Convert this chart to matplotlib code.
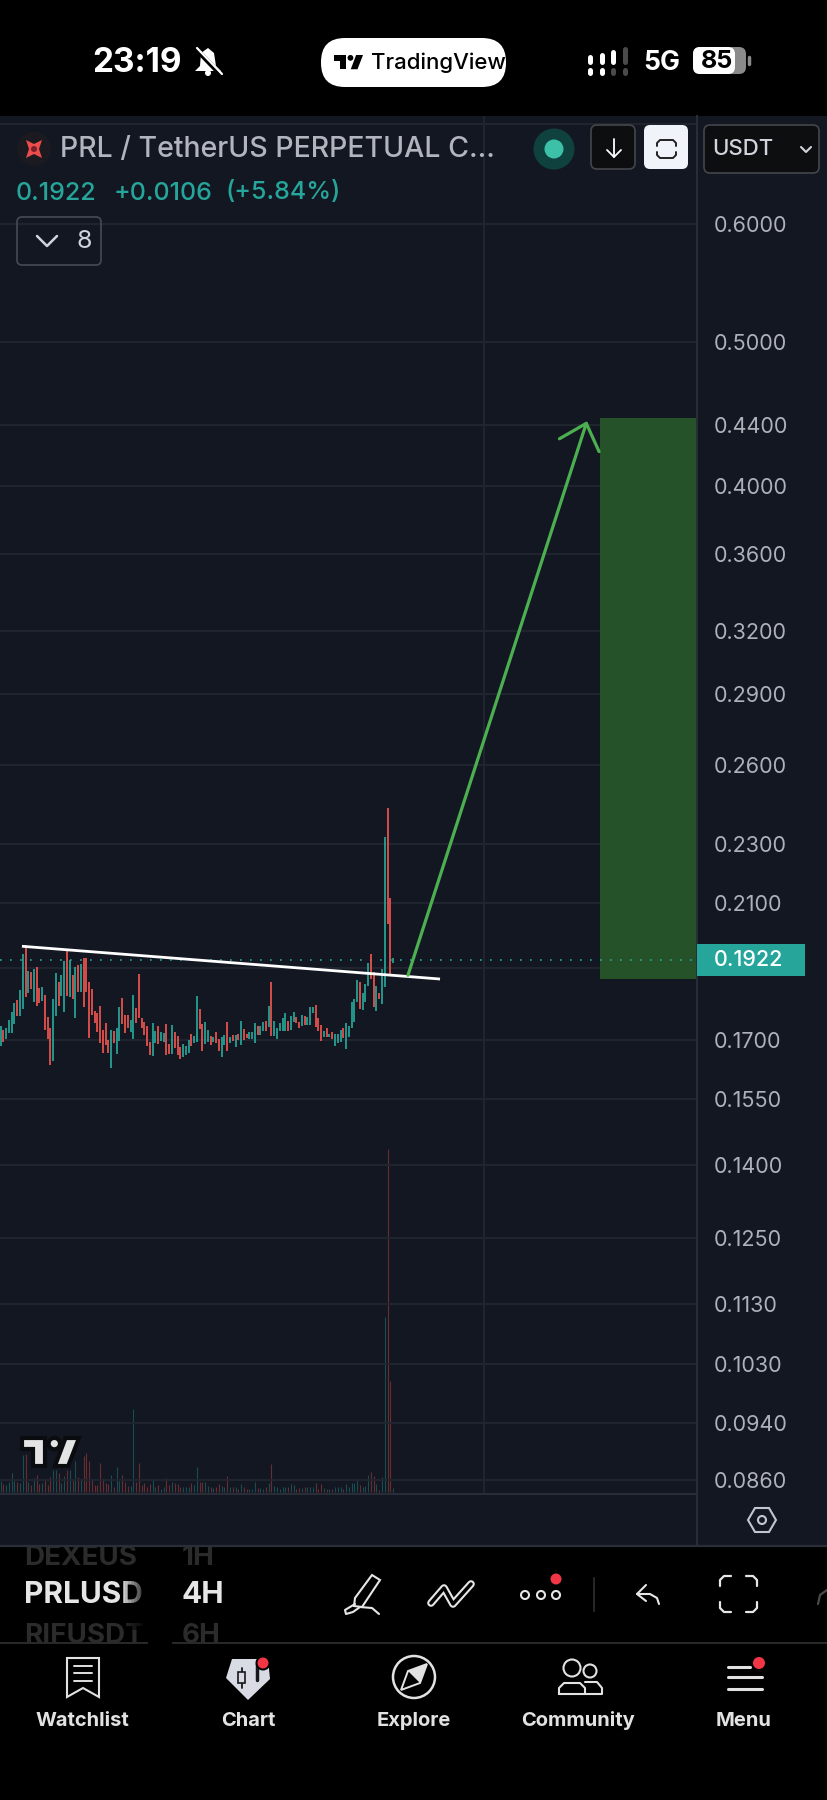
import matplotlib
matplotlib.use("Agg")
import matplotlib.pyplot as plt
from matplotlib.patches import Rectangle, Circle, Polygon, FancyBboxPatch
from matplotlib.ticker import NullLocator
import matplotlib.patheffects as pe

plt.rcParams['font.family'] = ['Inter', 'DejaVu Sans']

# ------- data (4H candles, oldest first)
# 1 = up candle, 0 = down candle
ups = [1,0,1,1,1,1,0,1,1,0, 1,0,1,0,0,1,0,0,0,1, 1,0,1,1,0,1,0,1,0,1,
       0,0,0,0,0,0,0,0,0,0, 1,0,1,1,0,0,0,1,1,0, 0,0,0,0,0,1,1,0,1,1,
       0,0,1,0,0,0,1,1,1,0, 1,1,0,0,1,1,0,1,0, 0,1,1,0,1,0,1,0,1,0,
       0,1,1,1,0,1,1,0,1,0, 1,1,1,1,1,0,1,1,0,0, 1,0,1,1,1,0,0,0,1,0,
       1,0,1,1,1,0,1,1,1,1, 1,0,1,1,1,0,0,1,0,1, 1,0,0,1]
highs = [.1736,.1725,.1732,.1752,.1775,.1798,.1807,.1835,.1942,.1968,
         .1891,.1887,.1895,.1902,.1840,.1843,.1821,.1761,.1732,.1810,
         .1885,.1858,.1878,.1920,.1952,.1924,.1878,.1902,.1909,.1912,
         .1930,.1930,.1858,.1838,.1778,.1771,.1791,.1725,.1743,.1700,
         .1725,.1723,.1730,.1787,.1814,.1765,.1765,.1752,.1821,.1784,
         .1881,.1758,.1748,.1736,.1695,.1743,.1723,.1736,.1720,.1718,
         .1741,.1688,.1738,.1720,.1710,.1680,.1688,.1683,.1700,.1715,
         .1709,.1818,.1783,.1741,.1748,.1725,.1709,.1706,.1721,
         .1702,.1706,.1713,.1746,.1707,.1713,.1712,.1714,.1751,.1728,
         .1714,.1721,.1721,.1743,.1737,.1737,.1746,.1749,.1791,.1858,
         .1751,.1730,.1744,.1758,.1772,.1751,.1763,.1775,.1761,.1748,
         .1765,.1763,.1760,.1789,.1789,.1793,.1758,.1740,.1722,.1732,
         .1716,.1719,.1714,.1714,.1725,.1731,.1743,.1737,.1802,.1811,
         .1863,.1858,.1826,.1853,.1914,.1940,.1886,.1847,.1828,.1897,
         .2326,.2431,.2115,.1929]
lows = [.1683,.1695,.1702,.1718,.1718,.1741,.1763,.1763,.1782,.1816,
        .1826,.1837,.1802,.1791,.1798,.1804,.1725,.1702,.1634,.1645,
        .1763,.1792,.1818,.1773,.1818,.1815,.1810,.1757,.1830,.1830,
        .1787,.1831,.1703,.1767,.1743,.1719,.1692,.1666,.1686,.1666,
        .1628,.1692,.1663,.1697,.1741,.1718,.1730,.1721,.1702,.1745,
        .1757,.1732,.1713,.1684,.1659,.1658,.1692,.1688,.1696,.1695,
        .1660,.1663,.1663,.1677,.1659,.1651,.1656,.1659,.1666,.1683,
        .1692,.1695,.1728,.1671,.1689,.1695,.1685,.1693,.1690,
        .1670,.1654,.1686,.1671,.1692,.1697,.1680,.1698,.1686,.1700,
        .1703,.1701,.1701,.1692,.1712,.1713,.1723,.1724,.1734,.1709,
        .1709,.1701,.1723,.1723,.1723,.1723,.1725,.1746,.1745,.1731,
        .1736,.1740,.1740,.1739,.1771,.1734,.1722,.1696,.1706,.1706,
        .1707,.1701,.1683,.1692,.1693,.1703,.1675,.1707,.1732,.1748,
        .1802,.1782,.1779,.1801,.1848,.1867,.1788,.1778,.1811,.1796,
        .1845,.2033,.1878,.1914]
volumes = [34,24,21,32,57,35,31,28,112,114, 31,21,44,51,25,29,41,23,45,66,
           67,58,29,49,67,66,39,94,45,37, 109,119,93,40,23,23,89,40,28,24,
           52,17,77,34,53,31,20,19,249,31, 89,22,27,17,25,39,17,21,11,15,
           43,21,32,29,25,17,15,16,16,27, 22,77,31,31,31,19,15,12,17,25,
           19,15,48,15,15,15,11,25,17,9, 11,11,30,13,12,9,15,27,85,19,
           15,11,15,15,15,25,21,10,12,12, 15,15,15,15,28,11,26,13,11,10,
           10,15,15,15,11,25,15,27,27,41, 21,17,19,51,62,49,25,7,47,526,
           1030,334,13]

price_ticks = [0.7,0.6,0.5,0.44,0.40,0.36,0.32,0.29,0.26,0.23,0.21,0.19,0.17,0.155,0.14,0.125,0.113,0.103,0.094,0.086]
price_labels = ['','0.6000','0.5000','0.4400','0.4000','0.3600','0.3200','0.2900','0.2600','0.2300','0.2100','',
                '0.1700','0.1550','0.1400','0.1250','0.1130','0.1030','0.0940','0.0860']
last_price = 0.1922
aug_bar = 175

# drawings on the chart: (bar, price)
trend_bars = [7.7, 159]
trend_prices = [.1964, .1867]
arrow_bars = [147.4, 212.2]
arrow_prices = [.1878, .4424]
target_bar = 216.9
target_prices = [.1868, .4445]

BG = '#131722'
GRID = '#21252f'
TEAL = '#26a69a'
RED = '#ef5350'
AXTXT = '#aeb1ba'
W, H = 828, 1800

fig = plt.figure(figsize=(W/100, H/100), dpi=100, facecolor='black')

def px_axes(l, t, r, b, **kw):
    return fig.add_axes([l/W, 1-b/H, (r-l)/W, (b-t)/H], **kw)

# background panel
back = px_axes(0, 0, W, H, zorder=0)
back.set_xlim(0, W); back.set_ylim(H, 0); back.axis('off')
back.add_patch(Rectangle((0, 116), W, 1430, fc=BG, ec='none'))

# ------- price chart
ax = px_axes(0, 116, 697, 1494, zorder=2, facecolor='none')
ax.set_yscale('log')
ax.set_xlim(-0.241, 252)
ax.set_ylim(.0842, .7091)
ax.yaxis.tick_right()
ax.set_yticks(price_ticks, price_labels)
ax.yaxis.set_minor_locator(NullLocator())
ax.set_xticks([aug_bar], ['Aug'])
ax.tick_params(axis='y', length=0, pad=12, labelsize=15.5, labelcolor=AXTXT)
ax.tick_params(axis='x', length=0, pad=14, labelsize=15, labelcolor=AXTXT)
for lab in ax.get_xticklabels():
    lab.set_fontweight('bold')
ax.grid(True, color=GRID, lw=1.4)
ax.set_axisbelow(True)
for s in ['top', 'left', 'right']:
    ax.spines[s].set_visible(False)
ax.spines['bottom'].set_color('#2a2e39')
ax.spines['bottom'].set_linewidth(1.4)

bars = list(range(len(highs)))
cols = [TEAL if u else RED for u in ups]

# target box
ax.add_patch(Rectangle((target_bar, target_prices[0]), 252-target_bar, target_prices[1]-target_prices[0],
                       fc='#265229', ec='none', zorder=1.5))

ax.axhline(last_price, color=TEAL, lw=1.2, ls=(0, (1, 5)), zorder=1.6)
ax.vlines(bars, lows, highs, colors=cols, lw=1.25, capstyle='butt', zorder=3)
ax.plot(trend_bars, trend_prices, color='white', lw=2.0, zorder=4, solid_capstyle='butt')
ax.annotate('', xy=(arrow_bars[1], arrow_prices[1]), xytext=(arrow_bars[0], arrow_prices[0]),
            arrowprops=dict(arrowstyle='->,head_length=1.1,head_width=1.0', mutation_scale=15,
                            color='#4caf50', lw=2.3, shrinkA=0, shrinkB=0), zorder=5)

# volume pane shares the x scale, one unit is a third of a pixel
vol = px_axes(0, 116, 697, 1494, zorder=1, facecolor='none')
vol.set_xlim(ax.get_xlim())
vol.set_ylim(-5, 4129)
vol.axis('off')
vol.vlines(bars, 0, volumes, colors=cols, lw=0.8, alpha=0.38, capstyle='butt')

# ------- overlay with the app chrome
ui = px_axes(0, 0, W, H, zorder=3, facecolor='none')
ui.set_xlim(0, W); ui.set_ylim(H, 0); ui.axis('off')

def line(pts, color='white', lw=1.5, **kw):
    xs, ys = zip(*pts)
    ui.plot(xs, ys, color=color, lw=lw, solid_capstyle='round', solid_joinstyle='round', **kw)

def box(x0, y0, x1, y1, fc, ec='none', r=6, lw=1.2, z=2):
    ui.add_patch(FancyBboxPatch((x0+r, y0+r), x1-x0-2*r, y1-y0-2*r, boxstyle='round,pad=%d' % r,
                                fc=fc, ec=ec, lw=lw, zorder=z))

def dot(x, y, r, fc, ec='none', lw=1.0, z=4):
    ui.add_patch(Circle((x, y), r, fc=fc, ec=ec, lw=lw, zorder=z))

def tv_logo(x, y, w, color, edge=None):
    h = w*85/173
    outline = dict(ec=edge, lw=3) if edge else dict(ec='none')
    t = [(0,0),(.405,0),(.405,1),(.2,1),(.2,.41),(0,.41)]
    s = [(.763,0),(1,0),(.81,1),(.578,1)]
    for shape in (t, s):
        ui.add_patch(Polygon([(x+a*w, y+b*h) for a, b in shape], closed=True, fc=color, zorder=4, **outline))
    ui.add_patch(Circle((x+.567*w, y+.2*h), .1*w, fc=color, zorder=4, **outline))

# right axis separator and bottom edge
ui.plot([697, 697], [116, 1546], color='#2a2e39', lw=1.4)
ui.plot([0, W], [1546, 1546], color='#2a2e39', lw=1.6)

# status bar
ui.text(92, 63, '23:19', color='white', fontsize=24, fontweight='bold', va='center')
ui.add_patch(Polygon([(208,48),(214,53),(216,66),(221,71),(195,71),(200,66),(201,53)], closed=True, fc='white', ec='none', zorder=4))
dot(208, 73, 3, 'white')
line([(195,48),(221,75)], color='black', lw=3.5, zorder=5)
line([(197,48),(222,74)], color='white', lw=1.6, zorder=6)
box(321, 38, 506, 87, 'white', r=24)
tv_logo(334, 55, 29, 'black')
ui.text(371, 63, 'TradingView', color='black', fontsize=16, fontweight='medium', va='center', zorder=4)
sig_x = [590, 602, 613, 625]
sig_top = [57, 55, 52, 49]
for i, (sx, st) in enumerate(zip(sig_x, sig_top)):
    c = 'white' if i < 3 else '#4a4a4a'
    line([(sx, st), (sx, 62)], color=c, lw=3.6)
    line([(sx, 70), (sx, 73)], color='white' if i < 2 else '#4a4a4a', lw=3.6)
ui.text(643, 63, '5G', color='white', fontsize=19, fontweight='bold', va='center')
box(693, 47, 746, 74, '#8a8a8a', r=7)
box(693, 47, 735, 74, 'white', r=7, z=3)
line([(749, 57), (749, 64)], color='#8a8a8a', lw=2.5)
ui.text(717, 61, '85', color='black', fontsize=18, fontweight='bold', va='center', ha='center', zorder=5)

# header
ui.add_patch(Rectangle((0, 0), W, 116, fc='black', ec='none', zorder=1))
dot(34, 149, 17, '#1b1a20')
ui.add_patch(Polygon([(26,140),(34,144),(42,140),(39,149),(42,158),(34,154),(26,158),(29,149)],
                     closed=True, fc='#ee4b4b', ec='none', zorder=5))
dot(34, 149, 3, '#7a2028', z=6)
ui.text(60, 149, 'PRL / TetherUS PERPETUAL C...', color='#b2b5be', fontsize=20.5, fontweight='medium', va='center')
dot(554, 149, 20.5, '#0f423f')
dot(554, 149, 9.5, '#3cc0a7', z=5)
box(591, 125, 635, 169, '#0d0e10', ec='#45464b', r=6)
line([(614,139),(614,157)], lw=1.3, zorder=4)
line([(607,150),(614,157),(621,150)], lw=1.3, zorder=4)
box(644, 125, 688, 169, '#f0f3fa', r=6)
line([(657,146),(657,143),(660,140),(673,140),(676,143),(676,146)], color='#222', lw=1.4, zorder=4)
line([(657,152),(657,155),(660,158),(673,158),(676,155),(676,152)], color='#222', lw=1.4, zorder=4)
box(704, 125, 819, 173, '#0d0e10', ec='#45464b', r=6)
ui.text(712, 149, 'USDT', color='#d1d4dc', fontsize=16, fontweight='medium', va='center', zorder=4)
line([(801,147),(806,152),(811,147)], color='#d1d4dc', lw=1.5, zorder=4)

ui.text(16, 193, '0.1922', color=TEAL, fontsize=18, fontweight='medium', va='center')
ui.text(114, 193, '+0.0106', color=TEAL, fontsize=18, fontweight='medium', va='center')
ui.text(226, 193, '(+5.84%)', color=TEAL, fontsize=18, fontweight='medium', va='center')
box(17, 217, 101, 265, 'none', ec='#434651', r=5, lw=1.3)
line([(37,236),(47,246),(57,236)], color='#d1d4dc', lw=1.8, zorder=4)
ui.text(84, 241, '8', color='#d1d4dc', fontsize=18, va='center', ha='center', zorder=4)

# last price tag
ui.add_patch(Rectangle((697, 944), 108, 32, fc=TEAL, ec='none', zorder=4))
ui.text(714, 960, '0.1922', color='white', fontsize=15.5, va='center', fontweight='medium', zorder=5)

tv_logo(22, 1438, 57, '#e4e4e4', edge='#0b0c10')

# hexagon settings button
ui.add_patch(Polygon([(755,1508),(769,1508),(776,1520),(769,1532),(755,1532),(748,1520)], closed=True,
                     fc='none', ec='#c3c6cf', lw=1.5, zorder=4))
dot(762, 1520, 4, 'none', ec='#c3c6cf', lw=1.5)

# toolbar, the wheel rows sit under the chart panel edge
dim = '#2b2b2b'
ui.add_patch(Rectangle((0, 1547), W, 253, fc='black', ec='none', zorder=0.5))
ui.text(24, 1558, 'DEXEUS', color=dim, fontsize=20, fontweight='bold', va='center', zorder=1)
ui.text(182, 1558, '1H', color=dim, fontsize=20, fontweight='bold', va='center', zorder=1)
ui.text(24, 1636, 'RIFUSDT', color=dim, fontsize=20, fontweight='bold', va='center', zorder=1, clip_on=True)
ui.text(182, 1636, '6H', color=dim, fontsize=20, fontweight='bold', va='center', zorder=1)
ui.add_patch(Rectangle((0, 1495), W, 51.0, fc=BG, ec='none', zorder=1.5))
ui.text(24, 1595, 'PRLUSD', color='#e6e6e6', fontsize=21.5, fontweight='bold', va='center', zorder=2)
ui.text(182, 1595, '4H', color='#e6e6e6', fontsize=21.5, fontweight='bold', va='center', zorder=2)
for i in range(10):
    ui.add_patch(Rectangle((122+i*3, 1570), 3, 60, fc='black', ec='none', alpha=min(1, 0.1*(i+1)), zorder=2.5))
ui.add_patch(Rectangle((148, 1570), 24, 80, fc='black', ec='none', zorder=2.5))
ui.add_patch(Rectangle((0, 1643), W, 157, fc='black', ec='none', zorder=1.2))
ui.plot([0, W], [1643, 1643], color='#2a2a2a', lw=1.4, zorder=2)

ui.add_patch(Polygon([(372,1575),(380,1580),(362,1607),(354,1606),(355,1598)], closed=True, fc='none', ec='#e6e6e6', lw=1.5, zorder=4))
line([(355,1604),(345,1610),(346,1614),(353,1612),(360,1607),(372,1608),(379,1614)], color='#e6e6e6')
line([(431,1603),(444,1588),(453,1604),(471,1584)], color='#e6e6e6', lw=5.5, zorder=4)
line([(431,1603),(444,1588),(453,1604),(471,1584)], color='black', lw=2.5, zorder=5)
for dx in (525, 541, 556):
    dot(dx, 1595, 4, 'none', ec='#e6e6e6', lw=1.5)
dot(556, 1579, 5.5, '#f23645')
ui.plot([594, 594], [1578, 1611], color='#2f2f2f', lw=1.2)
line([(646,1585),(637,1594),(646,1601)], color='#e6e6e6')
line([(637,1594),(650,1594),(657,1598),(659,1604)], color='#e6e6e6')
line([(720,1586),(720,1580),(724,1576),(731,1576)], color='#e6e6e6', lw=1.6)
line([(746,1576),(753,1576),(757,1580),(757,1586)], color='#e6e6e6', lw=1.6)
line([(720,1602),(720,1608),(724,1612),(731,1612)], color='#e6e6e6', lw=1.6)
line([(746,1612),(753,1612),(757,1608),(757,1602)], color='#e6e6e6', lw=1.6)
line([(827,1590),(820,1595),(818,1604)], color='#4a4a4a', lw=1.6)

# bottom navigation
nav = '#e2e2e2'
for name, nx in zip(['Watchlist', 'Chart', 'Explore', 'Community', 'Menu'], [82, 248, 414, 578, 744]):
    ui.text(nx, 1721, name, color=nav, fontsize=14.5, fontweight='bold', ha='center', va='center', zorder=4)
ui.add_patch(Polygon([(67,1658),(99,1658),(99,1697),(83,1688),(67,1697)], closed=True, fc='none', ec=nav, lw=1.5, zorder=4))
for ly in (1666, 1673, 1681):
    line([(74, ly), (92, ly)], color=nav, lw=1.4)
ui.add_patch(Polygon([(232,1659),(268,1659),(270,1679),(248,1700),(226,1678)], closed=True, fc='#d8dbe4', ec='none', zorder=4))
line([(242,1668),(242,1688)], color='#17181c', lw=1.3, zorder=5)
ui.add_patch(Rectangle((238.5, 1672), 7, 11, fc='#d8dbe4', ec='#17181c', lw=1.2, zorder=6))
line([(257,1664),(257,1680)], color='#17181c', lw=2.5, zorder=5)
dot(263, 1663, 7.5, 'black', z=6)
dot(263, 1663, 5.5, '#f23645', z=7)
dot(414, 1677, 21, 'none', ec=nav, lw=1.8)
ui.add_patch(Polygon([(427,1664),(420,1683),(401,1690),(408,1671)], closed=True, fc='none', ec=nav, lw=1.4, zorder=4))
ui.add_patch(Polygon([(427,1664),(420,1683),(408,1671)], closed=True, fc=nav, ec='none', zorder=4))
dot(572, 1668, 8.5, 'none', ec=nav, lw=1.5)
dot(590, 1671, 6.5, 'none', ec=nav, lw=1.5)
line([(559,1694),(559,1688),(564,1683),(580,1683),(585,1688),(585,1694),(559,1694)], color=nav)
line([(585,1694),(602,1694),(602,1688),(597,1682),(585,1682)], color=nav)
line([(728,1667),(750,1667)], color=nav, lw=2.2)
line([(728,1677),(762,1677)], color=nav, lw=2.2)
line([(728,1689),(762,1689)], color=nav, lw=2.2)
dot(759, 1663, 6, '#f23645')

fig.savefig('out.png', dpi=100, facecolor='black')
